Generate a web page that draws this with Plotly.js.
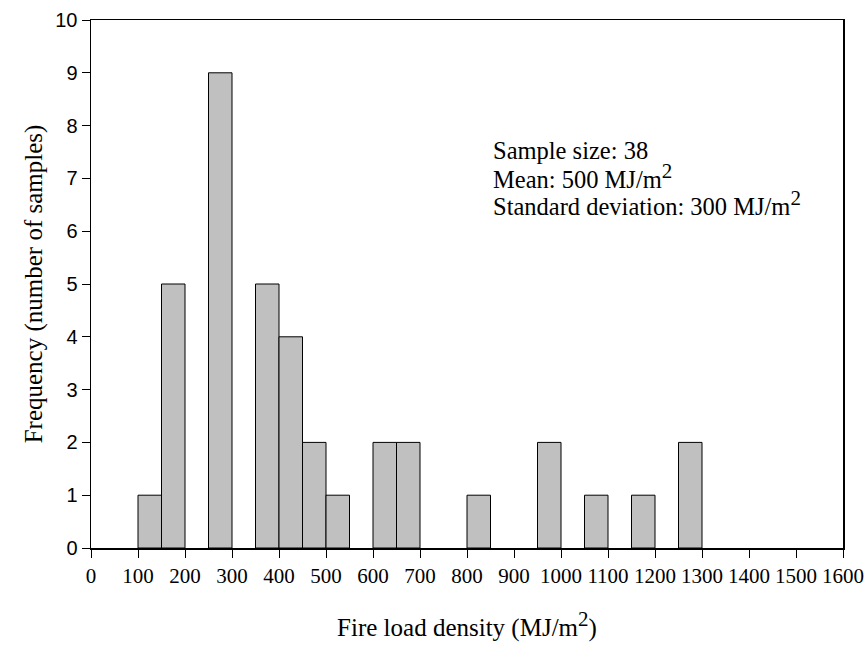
<!DOCTYPE html>
<html>
<head>
<meta charset="utf-8">
<script src="https://cdn.plot.ly/plotly-3.0.1.min.js"></script>
<style>html,body{margin:0;padding:0;background:#fff;}#chart{width:866px;height:645px;}</style>
</head>
<body>
<div id="chart"></div>
<script>
// Bin lower edges (MJ/m^2) and counts (number of samples)
const binStart = [100, 150, 250, 350, 400, 450, 500, 600, 650, 800, 950, 1050, 1150, 1250];
const counts   = [1, 5, 9, 5, 4, 2, 1, 2, 2, 1, 2, 1, 1, 2];
const binWidth = 50;
const xTickVals = [0,100,200,300,400,500,600,700,800,900,1000,1100,1200,1300,1400,1500,1600];
const yTickVals = [0,1,2,3,4,5,6,7,8,9,10];
const SUP2 = '<sup><span style="font-size:21px">2</span></sup>';
const statLines = ["Sample size: 38", "Mean: 500 MJ/m" + SUP2, "Standard deviation: 300 MJ/m" + SUP2];
const statY = [7.52, 7.05, 6.53];

const serif = "Liberation Serif, Times New Roman, serif";
const sans = "Liberation Sans, Arial, sans-serif";

const trace = {
  type: 'bar',
  x: binStart,
  y: counts,
  width: binStart.map(() => binWidth),
  offset: 0,
  marker: {color: '#c0c0c0', line: {color: '#000', width: 1}},
  hoverinfo: 'x+y'
};

const layout = {
  width: 866, height: 645,
  margin: {l: 91, r: 23, t: 20, b: 97},
  paper_bgcolor: '#fff', plot_bgcolor: '#fff',
  showlegend: false,
  bargap: 0,
  xaxis: {
    range: [0, 1600], tickvals: xTickVals, ticktext: xTickVals.map(String),
    ticks: 'outside', ticklen: 8, tickwidth: 1, tickcolor: '#000',
    showline: true, linecolor: '#000', linewidth: 1.5, mirror: true,
    showgrid: false, zeroline: false,
    tickfont: {family: serif, size: 21, color: '#000'},
    title: {text: 'Fire load density (MJ/m' + SUP2 + ')', font: {family: serif, size: 25, color: '#000'}, standoff: 32}
  },
  yaxis: {
    range: [0, 10], tickvals: yTickVals, ticktext: yTickVals.map(String),
    ticks: 'outside', ticklen: 8, tickwidth: 1, tickcolor: '#000',
    showline: true, linecolor: '#000', linewidth: 1.5, mirror: true,
    showgrid: false, zeroline: false,
    tickfont: {family: sans, size: 20, color: '#000'},
    title: {text: 'Frequency (number of samples)', font: {family: serif, size: 25, color: '#000'}, standoff: 5}
  },
  annotations: statLines.map((t, i) => ({
    xref: 'x', yref: 'y', x: 850, y: statY[i], xanchor: 'left', yanchor: 'middle',
    align: 'left', showarrow: false,
    text: t,
    font: {family: serif, size: 24.5, color: '#000'}
  }))
};

Plotly.newPlot('chart', [trace], layout, {displayModeBar: false, staticPlot: true});
</script>
</body>
</html>
